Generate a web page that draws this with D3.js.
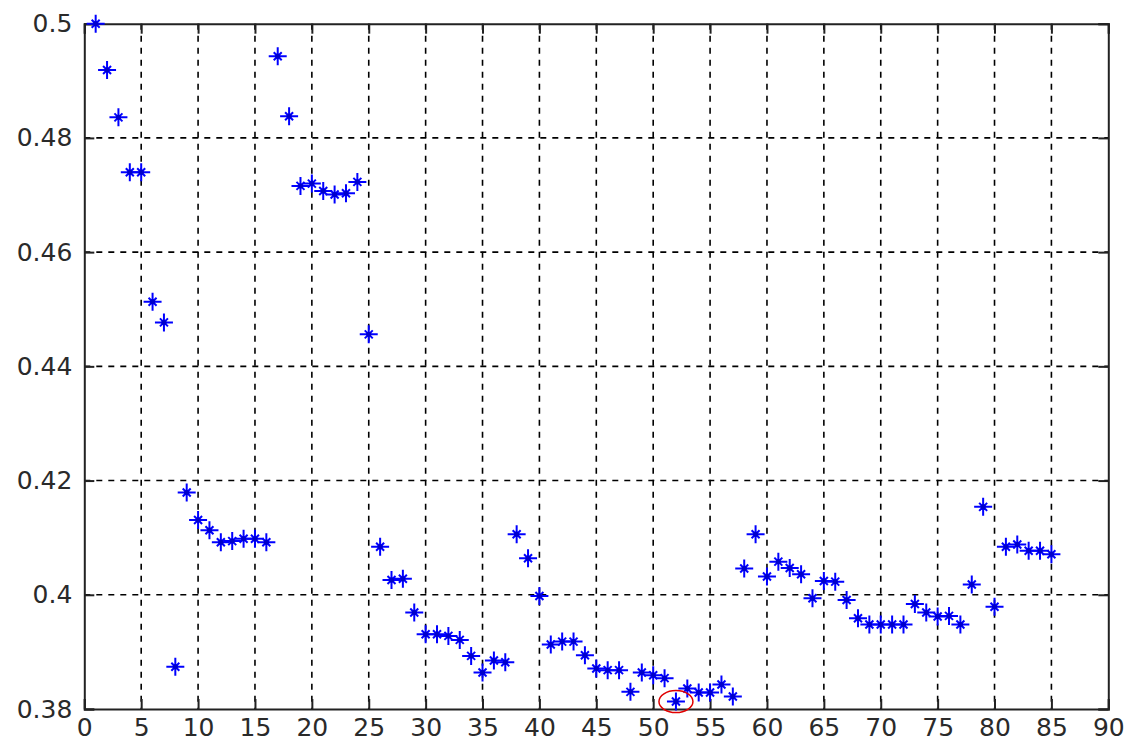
<!DOCTYPE html>
<html>
<head>
<meta charset="utf-8">
<script src="https://cdn.jsdelivr.net/npm/d3@7"></script>
<style>
  html, body { margin: 0; padding: 0; background: #fff; }
  svg { display: block; }
</style>
</head>
<body>
<svg id="chart" width="1138" height="742"></svg>
<script>
// ---- Data ----
const xValues = d3.range(1, 86);
const yValues = [
  0.5000, 0.4919, 0.4836, 0.4740, 0.4740, 0.4513, 0.4477, 0.3874, 0.4179, 0.4131,
  0.4113, 0.4092, 0.4094, 0.4098, 0.4098, 0.4092, 0.4943, 0.4838, 0.4716, 0.4720,
  0.4707, 0.4701, 0.4703, 0.4723, 0.4456, 0.4084, 0.4026, 0.4028, 0.3969, 0.3931,
  0.3931, 0.3928, 0.3921, 0.3893, 0.3864, 0.3885, 0.3882, 0.4106, 0.4064, 0.3998,
  0.3913, 0.3918, 0.3918, 0.3894, 0.3871, 0.3868, 0.3868, 0.3830, 0.3864, 0.3859,
  0.3854, 0.3813, 0.3836, 0.3829, 0.3829, 0.3843, 0.3822, 0.4046, 0.4106, 0.4032,
  0.4058, 0.4047, 0.4036, 0.3994, 0.4024, 0.4023, 0.3991, 0.3959, 0.3948, 0.3948,
  0.3948, 0.3948, 0.3984, 0.3969, 0.3962, 0.3963, 0.3948, 0.4018, 0.4154, 0.3979,
  0.4084, 0.4088, 0.4077, 0.4077, 0.4071
];
const xTicks = [0, 5, 10, 15, 20, 25, 30, 35, 40, 45, 50, 55, 60, 65, 70, 75, 80, 85, 90];
const yTicks = [0.38, 0.40, 0.42, 0.44, 0.46, 0.48, 0.50];
const yTickLabels = ["0.38", "0.4", "0.42", "0.44", "0.46", "0.48", "0.5"];
const highlightIndex = 52; // circled minimum

(function () {
// ---- Layout ----
const svg = d3.select("#chart");
const pLeft = 84.3, pRight = 1108.3, pTop = 23.7, pBottom = 709;
const x = d3.scaleLinear().domain([0, 90]).range([pLeft, pRight]);
const y = d3.scaleLinear().domain([0.38, 0.50]).range([pBottom, pTop]);

// Grid lines
const grid = svg.append("g").attr("stroke", "#000").attr("stroke-width", 1.6)
  .attr("stroke-dasharray", "6,6").attr("fill", "none");
xTicks.slice(1, -1).forEach(t => {
  grid.append("line").attr("x1", x(t)).attr("x2", x(t)).attr("y1", pTop).attr("y2", pBottom);
});
yTicks.slice(1, -1).forEach(t => {
  grid.append("line").attr("x1", pLeft).attr("x2", pRight).attr("y1", y(t)).attr("y2", y(t));
});

// Axes with inward ticks
const tickLen = 10;
const axB = svg.append("g").attr("transform", `translate(0,${pBottom})`)
  .call(d3.axisBottom(x).tickValues(xTicks).tickSize(-tickLen).tickPadding(10).tickFormat(d3.format("d")));
const axT = svg.append("g").attr("transform", `translate(0,${pTop})`)
  .call(d3.axisTop(x).tickValues(xTicks).tickSize(-tickLen).tickFormat(""));
const axL = svg.append("g").attr("transform", `translate(${pLeft},0)`)
  .call(d3.axisLeft(y).tickValues(yTicks).tickSize(-tickLen).tickPadding(12)
    .tickFormat((d, i) => yTickLabels[i]));
const axR = svg.append("g").attr("transform", `translate(${pRight},0)`)
  .call(d3.axisRight(y).tickValues(yTicks).tickSize(-tickLen).tickFormat(""));

[axB, axT, axL, axR].forEach(a => {
  a.select(".domain").attr("stroke", "#222").attr("stroke-width", 2);
  a.selectAll(".tick line").attr("stroke", "#222").attr("stroke-width", 2);
  a.selectAll("text").attr("fill", "#2a2a2a").attr("font-family", "DejaVu Sans, sans-serif")
    .attr("font-size", 25);
});
axB.selectAll(".tick text").attr("y", 26.5).attr("dy", null);

// Asterisk markers
const marker = (cx, cy) => {
  const a = 9, b = 4;
  return `M${cx - a},${cy}L${cx + a},${cy}M${cx},${cy - a}L${cx},${cy + a}` +
         `M${cx - b},${cy - b}L${cx + b},${cy + b}M${cx - b},${cy + b}L${cx + b},${cy - b}`;
};
const pts = xValues.map((d, i) => [d, yValues[i]]);
svg.append("g").selectAll("path").data(pts)
  .join("path")
  .attr("d", d => marker(x(d[0]), y(d[1])))
  .attr("stroke", "#0000ff").attr("stroke-width", 2).attr("fill", "none");
svg.append("g").selectAll("circle").data(pts)
  .join("circle")
  .attr("cx", d => x(d[0])).attr("cy", d => y(d[1])).attr("r", 2.5).attr("fill", "#0000cc");

// Red highlight ellipse
svg.append("ellipse")
  .attr("cx", x(highlightIndex)).attr("cy", y(yValues[highlightIndex - 1]))
  .attr("rx", 17).attr("ry", 11)
  .attr("fill", "none").attr("stroke", "#e00000").attr("stroke-width", 1.5);
})();
</script>
</body>
</html>
